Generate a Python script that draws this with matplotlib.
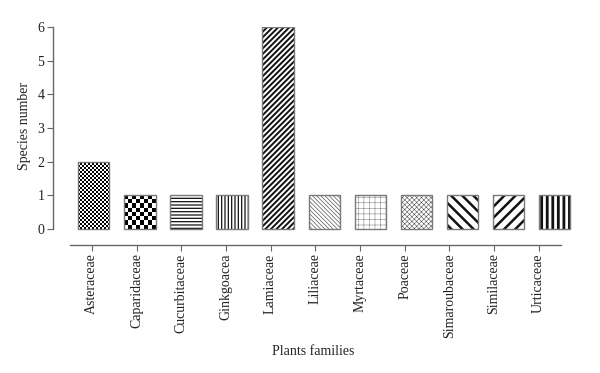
import numpy as np
import matplotlib
matplotlib.use("Agg")
import matplotlib.pyplot as plt

families = ["Asteraceae", "Caparidaceae", "Cucurbitaceae", "Ginkgoacea", "Lamiaceae",
            "Liliaceae", "Myrtaceae", "Poaceae", "Simaroubaceae", "Similaceae", "Urticaceae"]
species = [2, 1, 1, 1, 6, 1, 1, 1, 1, 1, 1]

# hatch, hatch linewidth, colour ; None -> checkerboard texture (square size in px)
hatches = [None, None, "-----", "|||||", "//////", "\\\\\\\\\\\\\\\\", "+++", "xxxxxxx",
           "\\\\\\", "///", "|||"]
hatch_lw = [0, 0, 0.9, 0.9, 1.4, 0.5, 0.4, 0.35, 1.8, 1.8, 2.0]
hatch_col = ["k", "k", "#111111", "#111111", "#111111", "#555555", "#888888", "#444444",
             "#111111", "#111111", "#111111"]
checker_px = {0: 2, 1: 4}

plt.rcParams["font.family"] = ["Liberation Serif", "DejaVu Serif"]
fig = plt.figure(figsize=(6, 3.73), dpi=100)
ax = fig.add_axes([0.088, 0.343, 0.867, 0.585])

x = np.arange(len(families))
w = 0.68
for i in x:
    b = ax.bar(x[i], species[i], width=w, color="white", edgecolor=hatch_col[i],
               linewidth=0, hatch=hatches[i], zorder=2)[0]
    if hasattr(b, "set_hatch_linewidth"):
        b.set_hatch_linewidth(hatch_lw[i])
    if hatches[i] is None:
        sq = checker_px[i]
        ncol = int(round(w * 46.1 / sq))
        nrow = int(round(species[i] * 33.5 / sq))
        yy, xx = np.indices((nrow, ncol))
        img = ((xx + yy) % 2).astype(float)
        im = ax.imshow(img, cmap="gray", vmin=0, vmax=1, interpolation="nearest",
                       extent=(x[i] - w / 2, x[i] + w / 2, 0, species[i]),
                       aspect="auto", zorder=3)
        im.set_clip_path(b)
    ax.bar(x[i], species[i], width=w, fill=False, edgecolor="#7a7a7a",
           linewidth=1.0, zorder=4)

ax.set_xlim(-0.89, 10.4)
ax.set_ylim(-0.48, 6.0)
ax.set_yticks(range(0, 7))
ax.set_xticks(x * 0.9696 - 0.043)
ax.set_xticklabels(families, rotation=90)

for s in ["top", "right"]:
    ax.spines[s].set_visible(False)
ax.spines["left"].set_bounds(0, 6)
ax.spines["bottom"].set_bounds(-0.52, 10.15)
for s in ["left", "bottom"]:
    ax.spines[s].set_color("#666666")
    ax.spines[s].set_linewidth(1.0)
ax.tick_params(direction="out", length=4, width=0.8, color="#666666",
               labelcolor="#222222", labelsize=10, pad=2)

ax.set_ylabel("Species number", fontsize=10, color="#222222")
ax.yaxis.set_label_coords(-0.042, 0.546)
ax.set_xlabel("Plants families", fontsize=10, color="#222222", labelpad=5)

fig.savefig("out.png", dpi=100)
